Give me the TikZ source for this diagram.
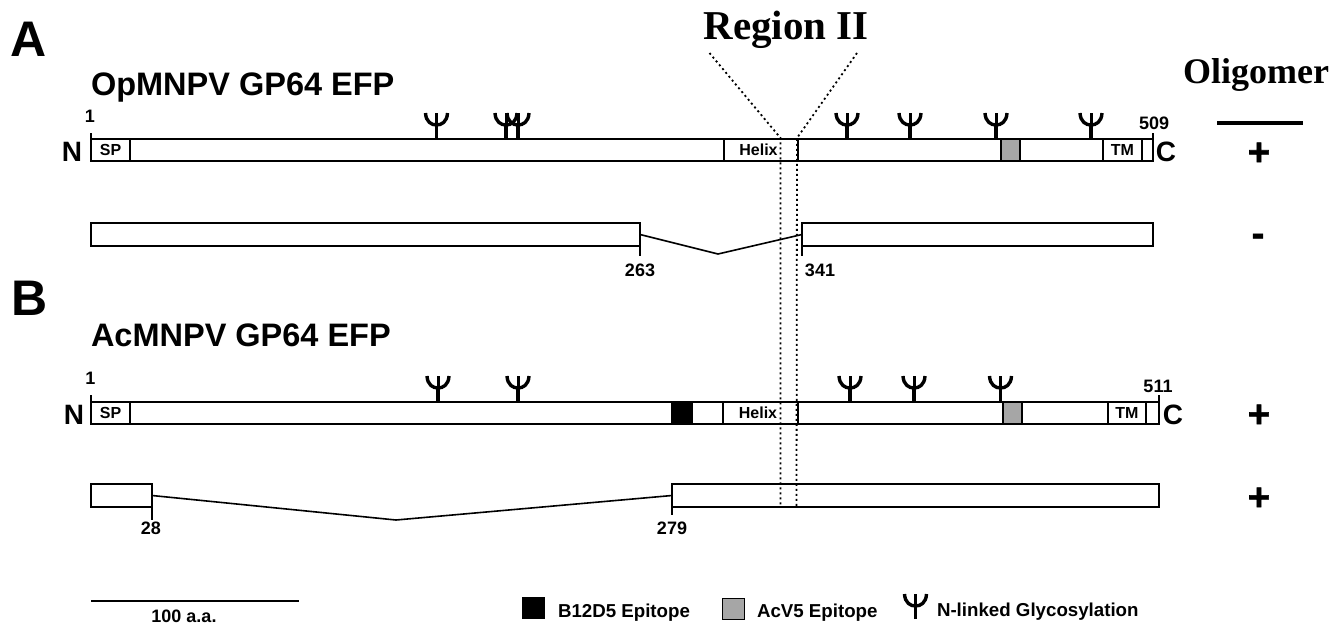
\documentclass[tikz,border=0pt]{standalone}
\usepackage{fontspec}
\setmainfont{Liberation Sans}[BoldFont={Liberation Sans Bold}]
\newfontfamily\serifbold{Liberation Serif Bold}
\newfontfamily\heavy{Liberation Sans Bold}[FakeBold=1.5]
\newcommand{\fs}[1]{\fontsize{#1}{#1}\selectfont}
\newcommand{\pbar}[6][]{\node[barbox,#1,minimum width={(#4-#2)*1pt},minimum height={(#5-#3)*1pt}] (#6) at ({(#2+#4)/2},{(#3+#5)/2}) {};}
\newcommand{\dom}[7][white]{\node[barbox,fill=#1,font=\bfseries\fs{16},line width=1.6pt,minimum width={(#4-#2)*1pt},minimum height={(#5-#3)*1pt}] (#6) at ({(#2+#4)/2},{(#3+#5)/2}) {#7};}
\tikzset{
  barbox/.style={draw=black,fill=white,line width=2pt,inner sep=0pt,outer sep=0pt},
  lab/.style={inner sep=0pt,outer sep=0pt,font=\bfseries\fs{18},anchor=base},
  big/.style={inner sep=0pt,outer sep=0pt,font=\bfseries\fs{50},anchor=base west},
  ttl/.style={inner sep=0pt,outer sep=0pt,font=\bfseries\fs{32.5},anchor=base west},
  term/.style={inner sep=0pt,outer sep=0pt,font=\bfseries\fs{28},anchor=base},
  sym/.style={inner sep=0pt,outer sep=0pt,font=\heavy\fs{38},anchor=base},
  leg/.style={inner sep=0pt,outer sep=0pt,font=\bfseries\fs{18.7},anchor=base west},
  serifttl/.style={inner sep=0pt,outer sep=0pt,anchor=base},
  conn/.style={draw=black,line width=1.6pt},
  tick/.style={draw=black,line width=1.6pt},
  regionline/.style={draw=black,line width=1.8pt,dash pattern=on 2pt off 3pt},
  glyco/.pic={
    \draw[line width=3.8pt] (0,0) -- (0,-14);
    \draw[line width=3.4pt] (-11,-25) .. controls (-10.5,-16) and (-5,-13) .. (0,-13) .. controls (5,-13) and (10.5,-16) .. (11,-25);
    \draw[line width=3pt] (0,-13) -- (0,-25);
  }
}
\begin{document}
\begin{tikzpicture}[x=1pt,y=-1pt]
\useasboundingbox[fill=white] (0,0) rectangle (1343,624);
% panel labels
\node[big] (panelA) at (10,56) {A};
\node[big] (panelB) at (11,315) {B};
\node[ttl] (titleA) at (91,95) {OpMNPV GP64 EFP};
\node[ttl] (titleB) at (91,346) {AcMNPV GP64 EFP};
\node[serifttl,font=\serifbold\fs{41}] (region) at (786,39) {Region II};
\node[serifttl,font=\serifbold\fs{36}] (oligo) at (1256,83) {Oligomer};
\coordinate (olL) at (1217,123); \coordinate (olR) at (1303,123);
\draw[line width=4pt] (olL) -- (olR);
% A ticks
\coordinate (a1t) at (91,133); \coordinate (a1b) at (91,139);
\coordinate (a2t) at (1153,133); \coordinate (a2b) at (1153,139);
\draw[tick] (a1t) -- (a1b); \draw[tick] (a2t) -- (a2b);
% A main
\pbar{91}{139}{1153}{161}{barA}
\dom{91}{139}{130}{161}{spA}{SP}
\dom{724}{139}{798}{161}{helixA}{Helix\kern5pt}
\dom[black!35]{1001}{139}{1020}{161}{acvA}{}
\dom{1103}{139}{1142}{161}{tmA}{TM}
\foreach \gx in {436.5,506,518,847,910,996,1091} \pic at (\gx,138) {glyco};
\node[term] (nA) at (72,161) {N};
\node[term] (cA) at (1166,161) {C};
\node[lab] (oneA) at (90,122) {1};
\node[lab] (endA) at (1154,129) {509};
% A deletion
\pbar{91}{223}{640}{246}{delA1}
\pbar{802}{223}{1153}{246}{delA2}
\coordinate (apexA) at (718,254);
\draw[conn] (delA1.east) -- (apexA) -- (delA2.west);
\coordinate (tickA1) at (640,256); \coordinate (tickA2) at (802,256);
\draw[tick] (delA1.north east) -- (tickA1);
\draw[tick] (delA2.north west) -- (tickA2);
\node[lab] (n263) at (640,276) {263};
\node[lab] (n341) at (820,276) {341};
% B main
\coordinate (b1t) at (91,395); \coordinate (b1b) at (91,402);
\coordinate (b2t) at (1159,395); \coordinate (b2b) at (1159,402);
\draw[tick] (b1t) -- (b1b); \draw[tick] (b2t) -- (b2b);
\pbar{91}{402}{1159}{424}{barB}
\dom{91}{402}{130}{424}{spB}{SP}
\dom[black]{672}{402}{692}{424}{b12B}{}
\dom{723}{402}{798}{424}{helixB}{Helix\kern5pt}
\dom[black!35]{1003}{402}{1022}{424}{acvB}{}
\dom{1108}{402}{1146}{424}{tmB}{TM}
\foreach \gx in {438,518,850,914,1000.5} \pic at (\gx,401) {glyco};
\node[term] (nB) at (74,424) {N};
\node[term] (cB) at (1173,424) {C};
\node[lab] (oneB) at (90.5,384) {1};
\node[lab] (endB) at (1158,392) {511};
% B deletion
\pbar{91}{484}{152}{507}{delB1}
\pbar{672}{484}{1159}{507}{delB2}
\coordinate (apexB) at (396,520);
\draw[conn] (delB1.east) -- (apexB) -- (delB2.west);
\coordinate (tickB1) at (152,520); \coordinate (tickB2) at (672,515);
\draw[tick] (delB1.north east) -- (tickB1);
\draw[tick] (delB2.north west) -- (tickB2);
\node[lab] (n28) at (151,534) {28};
\node[lab] (n279) at (672,534) {279};
% Region II guides
\coordinate (rTL) at (709.5,53); \coordinate (rTR) at (857,53);
\coordinate (rL) at (780.5,138); \coordinate (rR) at (797,138);
\coordinate (rLb) at (780.5,506); \coordinate (rRb) at (796.5,506);
\draw[regionline] (rTL) -- (rL) -- (rLb);
\draw[regionline] (rTR) -- (rR) -- (rRb);
% oligomer marks
\node[sym] (sA1) at (1259,165) {+};
\node[sym] (sA2) at (1258,246) {-};
\node[sym] (sB1) at (1259,427) {+};
\node[sym] (sB2) at (1259,510) {+};
% scale
\coordinate (scL) at (91,601); \coordinate (scR) at (299,601);
\draw[line width=2pt] (scL) -- (scR);
\node[lab] (scale) at (184,622) {100 a.a.};
% legend
\node[barbox,fill=black,line width=1pt,minimum width=22pt,minimum height=21pt] (lgB) at (533.5,607.5) {};
\node[leg] (lgBt) at (558,617) {B12D5 Epitope};
\node[barbox,fill=black!35,line width=1.5pt,minimum width=22pt,minimum height=21pt] (lgA) at (733.5,609) {};
\node[leg] (lgAt) at (757,617) {AcV5 Epitope};
\pic at (915.5,619) {glyco};
\node[leg] (lgGt) at (937,616) {N-linked Glycosylation};
\end{tikzpicture}
\end{document}
